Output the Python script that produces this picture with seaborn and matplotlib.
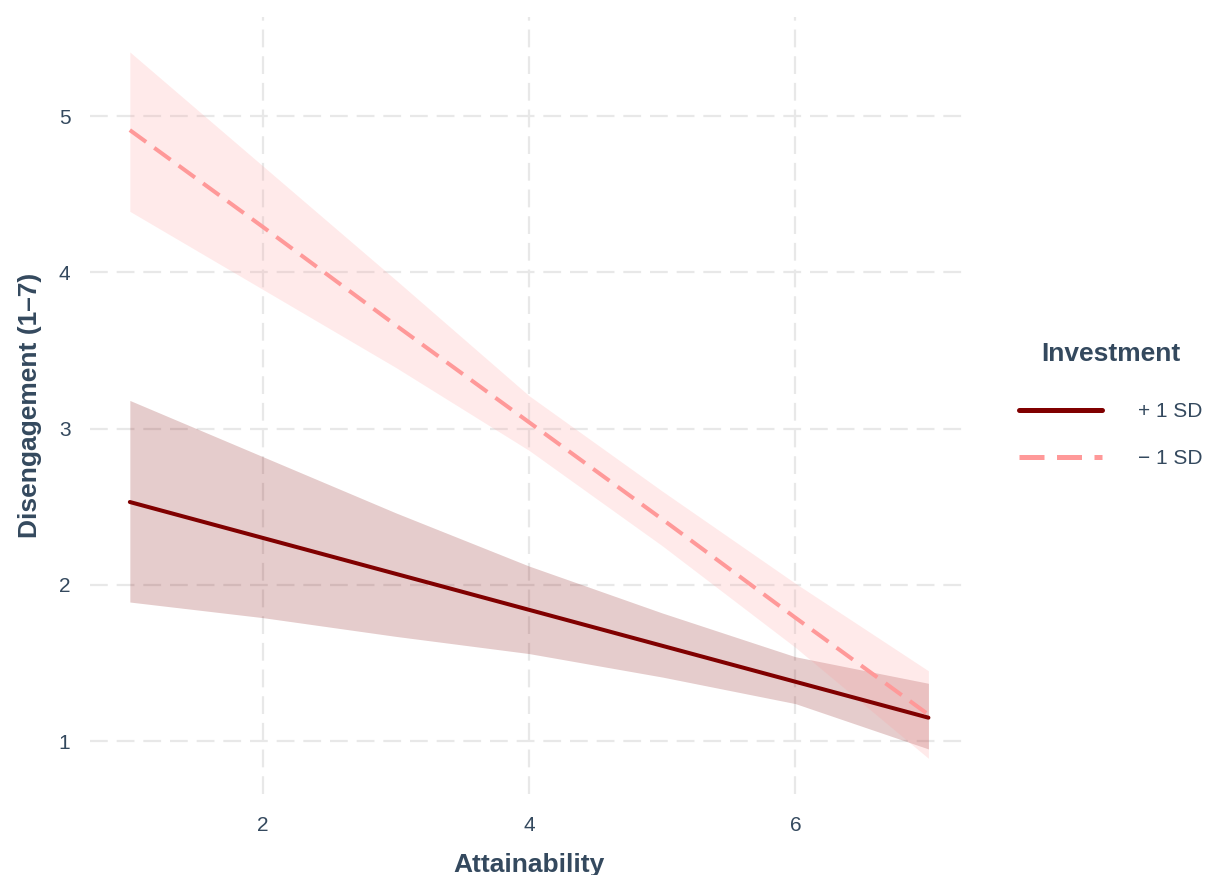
import numpy as np
import pandas as pd
import seaborn as sns
import matplotlib.pyplot as plt

# values
attainability = [1, 2, 3, 4, 5, 6, 7]
high_fit = [2.53, 2.30, 2.07, 1.84, 1.61, 1.38, 1.15]
high_lower = [1.89, 1.79, 1.67, 1.56, 1.41, 1.24, 0.95]
high_upper = [3.18, 2.82, 2.46, 2.12, 1.82, 1.54, 1.37]
low_fit = [4.91, 4.29, 3.66, 3.04, 2.42, 1.79, 1.17]
low_lower = [4.39, 3.89, 3.39, 2.86, 2.25, 1.60, 0.89]
low_upper = [5.41, 4.68, 3.95, 3.21, 2.60, 2.01, 1.45]
groups = ["+ 1 SD", "\u2212 1 SD"]
colors = {"+ 1 SD": "#800000", "\u2212 1 SD": "#ff9999"}

text_color = "#34495e"

sns.set_theme(style="white")
plt.rcParams['font.family'] = ['Liberation Sans', 'DejaVu Sans']

#long dataframe for seaborn
df = pd.DataFrame({
    "Attainability": attainability * 2,
    "Disengagement": high_fit + low_fit,
    "lower": high_lower + low_lower,
    "upper": high_upper + low_upper,
    "Investment": [groups[0]] * len(attainability) + [groups[1]] * len(attainability),
})

fig = plt.figure(figsize=(12.15, 8.75), dpi=100)
ax = fig.add_axes([0.074, 0.093, 0.723, 0.888])

for g in groups:
    sub = df[df["Investment"] == g]
    ax.fill_between(sub["Attainability"], sub["lower"], sub["upper"],
                    color=colors[g], alpha=0.2, linewidth=0, zorder=1)

sns.lineplot(data=df, x="Attainability", y="Disengagement", hue="Investment",
             style="Investment", hue_order=groups, style_order=groups,
             palette=colors, dashes={groups[0]: "", groups[1]: (5, 2.5)},
             linewidth=2.9, ax=ax, zorder=3)

ax.set_xlim(0.7, 7.3)
ax.set_ylim(0.664, 5.636)
ax.set_xticks([2, 4, 6])
ax.set_yticks([1, 2, 3, 4, 5])
ax.grid(True, color="#e8e8e8", linestyle=(0, (8, 4)), linewidth=1.6, zorder=0)
ax.set_axisbelow(True)
sns.despine(ax=ax, left=True, bottom=True)
ax.tick_params(axis="x", length=0, labelsize=15, labelcolor=text_color, pad=16)
ax.tick_params(axis="y", length=0, labelsize=15, labelcolor=text_color, pad=14)

ax.set_xlabel("Attainability", fontsize=19, fontweight="bold", color=text_color, labelpad=13)
ax.set_ylabel("Disengagement (1\u20137)", fontsize=19, fontweight="bold", color=text_color, labelpad=12)

sns.move_legend(ax, "center left", bbox_to_anchor=(1.048, 0.5), frameon=False,
                title="Investment", fontsize=15, handlelength=4.0, handletextpad=1.7,
                labelspacing=1.35, borderaxespad=0)
leg = ax.get_legend()
leg.get_title().set_fontweight("bold")
leg.get_title().set_fontsize(19)
leg.get_title().set_color(text_color)
for t in leg.get_texts():
    t.set_color(text_color)
for line in leg.get_lines():
    line.set_linewidth(3.6)
leg._legend_box.sep = 26

fig.savefig("out.png", dpi=100)
